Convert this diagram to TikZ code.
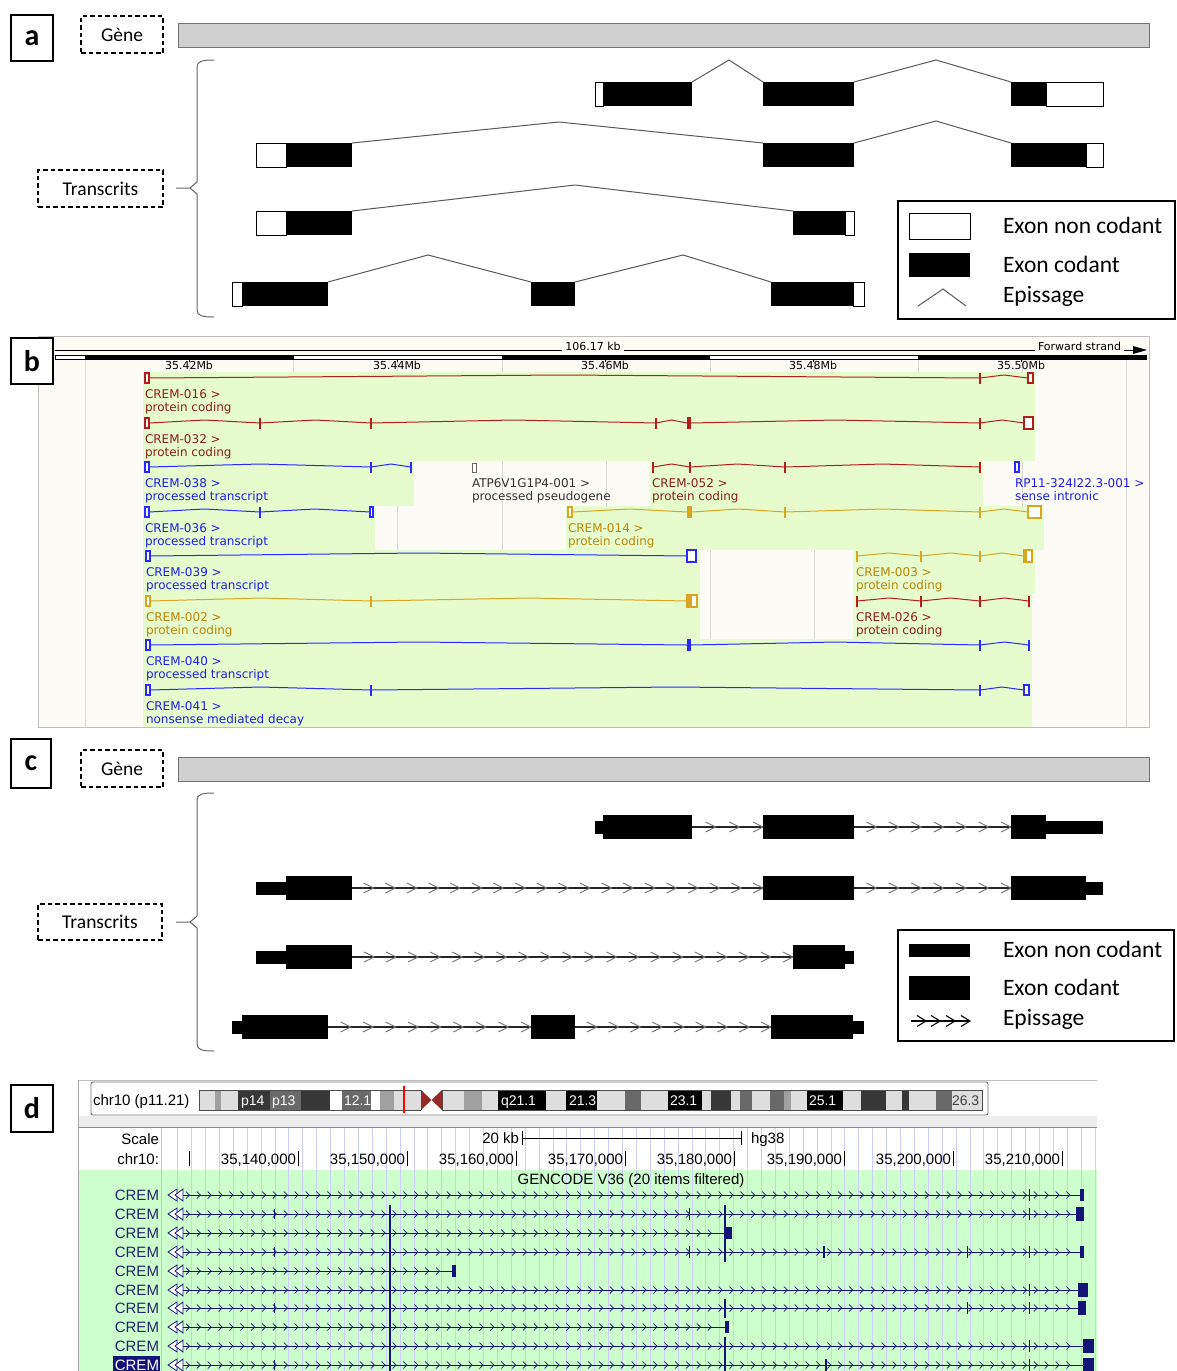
\documentclass[tikz,border=0pt]{standalone}
\usepackage{fontspec}
\setmainfont{Carlito}
\newfontfamily\ensfont{DejaVu Sans}
\newfontfamily\ucfont{Liberation Sans}
\definecolor{genegray}{RGB}{208,208,208}
\definecolor{ensgreen}{RGB}{231,252,205}
\definecolor{enscream}{RGB}{252,251,246}
\definecolor{ensgrid}{RGB}{215,215,212}
\definecolor{pcline}{RGB}{178,30,30}
\definecolor{pctext}{RGB}{139,30,30}
\definecolor{goline}{RGB}{218,165,32}
\definecolor{gotext}{RGB}{184,134,11}
\definecolor{blline}{RGB}{40,40,255}
\definecolor{bltext}{RGB}{30,30,235}
\definecolor{atptext}{RGB}{50,50,50}
\definecolor{ucgreen}{RGB}{204,255,204}
\definecolor{ucgrid}{RGB}{205,205,250}
\definecolor{ucnavy}{RGB}{20,20,120}
\definecolor{uctext}{RGB}{35,35,110}
\definecolor{ucpink}{RGB}{255,175,175}
\definecolor{bA}{RGB}{222,222,222}
\definecolor{bB}{RGB}{160,160,160}
\definecolor{bC}{RGB}{105,105,105}
\definecolor{bD}{RGB}{55,55,55}
\definecolor{cenred}{RGB}{150,40,40}
\tikzset{
  every node/.style={inner sep=0pt, outer sep=0pt},
  plabel/.style={draw, fill=white, line width=1.6pt, minimum width=42pt, minimum height=46pt, font=\fontsize{30}{30}\selectfont\bfseries},
  dbox/.style={draw, dashed, dash pattern=on 4.5pt off 3pt, line width=1.1pt, font=\fontsize{19.5}{20}\selectfont},
  genebar/.style={draw=black!55, fill=genegray, line width=0.8pt, anchor=north west, minimum width=971pt, minimum height=24pt},
  ncx/.style={draw=black, fill=white, line width=0.8pt},
  spl/.style={draw=black!65, line width=1pt},
  bracestyle/.style={draw=black!60, line width=1pt},
  legtxt/.style={font=\fontsize{23.5}{24}\selectfont, anchor=base west},
  legbox/.style={draw=black, line width=1.2pt, anchor=north west},
  chevline/.style={draw=black!85, line width=1.3pt},
  chevmark/.style={draw=black!55, line width=0.9pt},
  enstxt/.style={font=\ensfont\fontsize{12}{12}\selectfont, anchor=base west},
  ensaxis/.style={font=\ensfont\fontsize{11}{11}\selectfont},
  pc/.style={draw=pcline, line width=1pt},
  go/.style={draw=goline, line width=1pt},
  bl/.style={draw=blline, line width=1pt},
  ucl/.style={font=\ucfont\fontsize{15}{15}\selectfont},
  bandtxt/.style={font=\ucfont\fontsize{14}{14}\selectfont, text=white, anchor=base west},
}
\newcommand{\ehat}[4]{\draw[#1] (#2,#4) -- ({(#2+#3)/2},#4-3) -- (#3,#4);}
\newcommand{\etick}[3]{\draw[#1, line width=1.5pt] (#2,#3-5.5) -- (#2,#3+5.5);}
\newcommand{\ebox}[4]{\draw[#1, fill=white, line width=1.2pt] (#2,#4-5) rectangle (#3,#4+5);}
\newcommand{\eboxb}[4]{\draw[#1, fill=white, line width=1.6pt] (#2,#4-6) rectangle (#3,#4+6);}
\newcommand{\efill}[4]{\fill[#1] (#2,#4-6) rectangle (#3,#4+6);}
\newcommand{\chevc}[4]{%
  \draw[chevline] (#1,#3) -- (#2,#3);
  \foreach \k in {1,...,#4}{%
    \pgfmathsetmacro\xt{#1+\k*(#2-#1)/#4}%
    \draw[chevmark] (\xt-10,#3-5) -- (\xt,#3) -- (\xt-10,#3+5);
  }%
}
\newcommand{\ucrow}[4]{%
  \draw[ucnavy, line width=0.9pt] (183,#2) -- (#3,#2);
  \pgfmathtruncatemacro\ucn{(#3-194)/10.87}%
  \foreach \k in {0,...,\ucn}{%
    \draw[ucnavy, line width=0.7pt] ({186+10.87*\k},#2-3.5) -- ({189.5+10.87*\k},#2) -- ({186+10.87*\k},#2+3.5);
  }%
  \draw[ucnavy, line width=0.8pt, fill=white] (168,#2) -- (177,#2-6) -- (177,#2+6) -- cycle;
  \draw[ucnavy, line width=0.8pt, fill=white] (175,#2) -- (183,#2-6) -- (183,#2+6) -- cycle;
  \node[ucl, anchor=base east, #4] (crem#1) at (159,#2+5.4) {CREM};
}
\newcommand{\uctick}[4]{\draw[ucnavy, line width=#4] (#1,#2-#3) -- (#1,#2+#3);}
\newcommand{\ucbox}[4]{\fill[ucnavy] (#1,#3-#4) rectangle (#2,#3+#4);}
\begin{document}
\begin{tikzpicture}[x=1pt,y=-1pt]
\useasboundingbox (0,0) rectangle (1176,1371);
\fill[white] (0,0) rectangle (1176,1371);

% ================= PANEL A =================
\node[plabel] (pa) at (32,38) {a};
\node[dbox, minimum width=82pt, minimum height=37pt] (genea) at (122,34.5) {Gène};
\node[genebar] (bara) at (178,23) {};
\node[dbox, minimum width=125pt, minimum height=37pt] (transa) at (100.5,188.5) {Transcrits};
\draw[bracestyle] (214,60) .. controls (203,60) and (197,61) .. (197,67) -- (197,182) -- (190,188) -- (176,188);
\draw[bracestyle] (190,188) -- (197,194) -- (197,310) .. controls (197,316) and (203,317) .. (214,317);
% T1
\draw[spl] (692,82) -- (729,60) -- (763,82);
\draw[spl] (854,82) -- (936,60) -- (1011,82);
\draw[ncx] (595,82) rectangle (603,106);
\fill (603,82) rectangle (692,106);
\fill (763,82) rectangle (854,106);
\fill (1011,82) rectangle (1046,106);
\draw[ncx] (1046,82) rectangle (1103,106);
% T2
\draw[spl] (352,143) -- (559,122) -- (763,143);
\draw[spl] (854,143) -- (936,121) -- (1011,143);
\draw[ncx] (256,143) rectangle (286,167);
\fill (286,143) rectangle (352,167);
\fill (763,143) rectangle (854,167);
\fill (1011,143) rectangle (1086,167);
\draw[ncx] (1086,143) rectangle (1103,167);
% T3
\draw[spl] (352,211) -- (575,185) -- (793,211);
\draw[ncx] (256,211) rectangle (286,235);
\fill (286,211) rectangle (352,235);
\fill (793,211) rectangle (845,235);
\draw[ncx] (845,211) rectangle (854,235);
% T4
\draw[spl] (328,282) -- (428,255) -- (531,282);
\draw[spl] (575,282) -- (683,255) -- (771,282);
\draw[ncx] (232,282) rectangle (242,306);
\fill (242,282) rectangle (328,306);
\fill (531,282) rectangle (575,306);
\fill (771,282) rectangle (853,306);
\draw[ncx] (853,282) rectangle (864,306);
% legend a
\node[legbox, minimum width=277pt, minimum height=118pt] (lega) at (898,201) {};
\draw[ncx] (909,213) rectangle (970,239);
\fill (909,253) rectangle (970,277);
\draw[spl] (918,306) -- (943,289) -- (966,306);
\node[legtxt] (lga1) at (1003,233) {Exon non codant};
\node[legtxt] (lga2) at (1003,272) {Exon codant};
\node[legtxt] (lga3) at (1003,302) {Epissage};

% ================= PANEL B =================
\draw[draw=black!25, fill=enscream] (38,336) rectangle (1149,727);
\foreach \g in {85,189,293,397,502,606,710,814,918,1022,1126}{\draw[ensgrid, line width=1pt] (\g,360) -- (\g,727);}
% ruler
\draw[black, line width=0.8pt] (55,350) -- (562,350);
\draw[black, line width=0.8pt] (624,350) -- (1035,350);
\node[ensaxis, anchor=base] (bkb) at (593,350) {106.17 kb};
\node[ensaxis, anchor=base west] (bfs) at (1038,350) {Forward strand};
\draw[black, line width=0.8pt] (1124,350) -- (1134,350);
\fill[black] (1133,346) -- (1147,350) -- (1133,354) -- cycle;
\draw[black, line width=0.6pt, fill=white] (55,355) rectangle (1146,359);
\fill[black] (85,354.5) rectangle (294,359.5);
\fill[black] (502,354.5) rectangle (710,359.5);
\fill[black] (918,354.5) rectangle (1146,359.5);
\foreach \t/\lab [count=\i] in {189/35.42Mb,397/35.44Mb,605/35.46Mb,813/35.48Mb,1021/35.50Mb}{
  \draw[black, line width=0.6pt] (\t,359) -- (\t,362);
  \node[ensaxis] (btick\i) at (\t,365.5) {\lab};
}
% green backgrounds
\fill[ensgreen] (143,372) rectangle (1035,461);
\fill[ensgreen] (143,461) rectangle (414,506);
\fill[ensgreen] (650,461) rectangle (983,506);
\fill[ensgreen] (143,506) rectangle (375,550);
\fill[ensgreen] (566,506) rectangle (1044,550);
\fill[ensgreen] (143,550) rectangle (700,639);
\fill[ensgreen] (853,550) rectangle (1035,594);
\fill[ensgreen] (853,594) rectangle (1032,639);
\fill[ensgreen] (143,639) rectangle (1032,727);
% row 1
\ehat{pc}{149}{980}{378}\etick{pc}{980}{378}\ehat{pc}{980}{1028}{378}
\ebox{pc}{145}{149}{378}\ebox{pc}{1028}{1033}{378}
% row 2
\ehat{pc}{149}{260}{423}\etick{pc}{260}{423}
\ehat{pc}{260}{371}{423}\etick{pc}{371}{423}
\ehat{pc}{371}{656}{423}\etick{pc}{656}{423}
\ehat{pc}{656}{687}{423}\efill{pcline}{687}{691}{423}
\ehat{pc}{691}{980}{423}\etick{pc}{980}{423}
\ehat{pc}{980}{1024}{423}\eboxb{pc}{1024}{1033}{423}
\ebox{pc}{145}{149}{423}
% row 3
\ehat{bl}{149}{371}{467}\etick{bl}{371}{467}\ehat{bl}{371}{411}{467}\etick{bl}{411}{467}
\ebox{bl}{145}{149}{467}
\draw[draw=black!60, fill=white, line width=1pt] (472,463) rectangle (476,472);
\etick{pc}{653}{467}\ehat{pc}{653}{690}{467}\etick{pc}{690}{467}\ehat{pc}{690}{785}{467}\etick{pc}{785}{467}\ehat{pc}{785}{980}{467}\etick{pc}{980}{467}
\ebox{bl}{1015}{1019}{467}
% row 4
\ehat{bl}{149}{260}{512}\etick{bl}{260}{512}\ehat{bl}{260}{370}{512}\ebox{bl}{370}{373}{512}
\ebox{bl}{145}{149}{512}
\ehat{go}{572}{687}{512}\efill{goline}{687}{692}{512}\ehat{go}{692}{785}{512}\etick{go}{785}{512}
\ehat{go}{785}{980}{512}\etick{go}{980}{512}\ehat{go}{980}{1028}{512}\eboxb{go}{1028}{1041}{512}
\ebox{go}{568}{572}{512}
% row 5
\ehat{bl}{150}{687}{556}\eboxb{bl}{687}{696}{556}\ebox{bl}{146}{150}{556}
\etick{go}{857}{556}\ehat{go}{857}{921}{556}\etick{go}{921}{556}\ehat{go}{921}{980}{556}\etick{go}{980}{556}
\ehat{go}{980}{1024}{556}\eboxb{go}{1024}{1032}{556}\efill{goline}{1024}{1027}{556}
% row 6
\ehat{go}{150}{371}{601}\etick{go}{371}{601}\ehat{go}{371}{687}{601}\eboxb{go}{687}{697}{601}\efill{goline}{687}{692}{601}
\ebox{go}{146}{150}{601}
\etick{pc}{857}{601}\ehat{pc}{857}{921}{601}\etick{pc}{921}{601}\ehat{pc}{921}{980}{601}\etick{pc}{980}{601}\ehat{pc}{980}{1029}{601}\etick{pc}{1029}{601}
% row 7
\ehat{bl}{150}{687}{645}\efill{blline}{687}{691}{645}\ehat{bl}{691}{980}{645}\etick{bl}{980}{645}\ehat{bl}{980}{1029}{645}\etick{bl}{1029}{645}
\ebox{bl}{146}{150}{645}
% row 8
\ehat{bl}{150}{371}{690}\etick{bl}{371}{690}\ehat{bl}{371}{980}{690}\etick{bl}{980}{690}\ehat{bl}{980}{1024}{690}\ebox{bl}{1024}{1029}{690}
\ebox{bl}{146}{150}{690}
% labels
\foreach \nm/\xx/\yy/\cc/\la/\lb in {
  r1/145/378/pctext/CREM-016 >/protein coding,
  r2/145/423/pctext/CREM-032 >/protein coding,
  r3a/145/467/bltext/CREM-038 >/processed transcript,
  r3b/472/467/atptext/ATP6V1G1P4-001 >/processed pseudogene,
  r3c/652/467/pctext/CREM-052 >/protein coding,
  r3d/1015/467/bltext/RP11-324I22.3-001 >/sense intronic,
  r4a/145/512/bltext/CREM-036 >/processed transcript,
  r4b/568/512/gotext/CREM-014 >/protein coding,
  r5a/146/556/bltext/CREM-039 >/processed transcript,
  r5b/856/556/gotext/CREM-003 >/protein coding,
  r6a/146/601/gotext/CREM-002 >/protein coding,
  r6b/856/601/pctext/CREM-026 >/protein coding,
  r7/146/645/bltext/CREM-040 >/processed transcript,
  r8/146/690/bltext/CREM-041 >/nonsense mediated decay}{
  \node[enstxt, text=\cc] (\nm n) at (\xx,\yy+20) {\la};
  \node[enstxt, text=\cc] (\nm t) at (\xx,\yy+33) {\lb};
}
\node[plabel] (pb) at (32,361) {b};

% ================= PANEL C =================
\node[plabel, minimum width=40pt, minimum height=49pt] (pc) at (31,763.5) {c};
\node[dbox, minimum width=82pt, minimum height=37pt] (genec) at (122,768.5) {Gène};
\node[genebar] (barc) at (178,757) {};
\node[dbox, minimum width=124pt, minimum height=36pt] (transc) at (100,922) {Transcrits};
\draw[bracestyle] (214,793) .. controls (203,793) and (197,794) .. (197,800) -- (197,916) -- (190,922) -- (176,922);
\draw[bracestyle] (190,922) -- (197,928) -- (197,1044) .. controls (197,1050) and (203,1051) .. (214,1051);
% T1
\chevc{692}{763}{827}{3}
\chevc{854}{1011}{827}{7}
\fill (595,820.5) rectangle (603,833.5);
\fill (603,815) rectangle (692,839);
\fill (763,815) rectangle (854,839);
\fill (1011,815) rectangle (1046,839);
\fill (1046,820.5) rectangle (1103,833.5);
% T2
\chevc{352}{763}{888}{19}
\chevc{854}{1011}{888}{7}
\fill (256,881.5) rectangle (286,894.5);
\fill (286,876) rectangle (352,900);
\fill (763,876) rectangle (854,900);
\fill (1011,876) rectangle (1086,900);
\fill (1086,881.5) rectangle (1103,894.5);
% T3
\chevc{352}{793}{957}{20}
\fill (256,950.5) rectangle (286,963.5);
\fill (286,945) rectangle (352,969);
\fill (793,945) rectangle (845,969);
\fill (845,950.5) rectangle (854,963.5);
% T4
\chevc{328}{531}{1027}{9}
\chevc{575}{771}{1027}{9}
\fill (232,1020.5) rectangle (242,1033.5);
\fill (242,1015) rectangle (328,1039);
\fill (531,1015) rectangle (575,1039);
\fill (771,1015) rectangle (853,1039);
\fill (853,1020.5) rectangle (864,1033.5);
% legend c
\node[legbox, minimum width=276pt, minimum height=111pt] (legc) at (898,930) {};
\fill (909,944) rectangle (970,957);
\fill (909,976) rectangle (970,1000);
\draw[black, line width=1.2pt] (911,1021) -- (970,1021);
\foreach \cx in {926,940,955,970}{\draw[black, line width=1.1pt] (\cx-9,1015.5) -- (\cx,1021) -- (\cx-9,1026.5);}
\node[legtxt] (lgc1) at (1003,957) {Exon non codant};
\node[legtxt] (lgc2) at (1003,995) {Exon codant};
\node[legtxt] (lgc3) at (1003,1025) {Epissage};

% ================= PANEL D =================
\fill[white] (78,1080) rectangle (1097,1127);
\fill[black!7] (78,1116) rectangle (1097,1127);
\draw[black!25, line width=0.8pt] (78,1080.5) -- (1097,1080.5);
\draw[black!45, line width=1pt] (78,1127) -- (1097,1127);
\draw[black!35, line width=1pt] (78,1080) -- (78,1371);
\draw[black!55, line width=0.9pt, rounded corners=2pt, fill=white] (91,1082) rectangle (988,1115);
\node[ucl, anchor=base west] (chrlab) at (93,1105.5) {chr10 (p11.21)};
% bands
\fill[white] (199,1090) rectangle (982,1110);
\fill[bA] (199,1090) rectangle (215,1110);
\fill[bB] (215,1090) rectangle (221,1110);
\fill[bA] (221,1090) rectangle (238,1110);
\fill[bD] (238,1090) rectangle (270,1110);
\fill[bC] (270,1090) rectangle (301,1110);
\fill[bD] (301,1090) rectangle (330,1110);
\fill[bC] (342,1090) rectangle (371,1110);
\fill[bB] (380,1090) rectangle (394,1110);
\fill[bA] (394,1090) rectangle (421,1110);
\fill[bA] (442,1090) rectangle (464,1110);
\fill[bB] (464,1090) rectangle (482,1110);
\fill[bA] (482,1090) rectangle (498,1110);
\fill[black] (498,1090) rectangle (546,1110);
\fill[bA] (546,1090) rectangle (566,1110);
\fill[black] (566,1090) rectangle (597,1110);
\fill[bA] (597,1090) rectangle (625,1110);
\fill[bC] (625,1090) rectangle (641,1110);
\fill[bA] (641,1090) rectangle (668,1110);
\fill[black] (668,1090) rectangle (702,1110);
\fill[bA] (702,1090) rectangle (711,1110);
\fill[bD] (711,1090) rectangle (731,1110);
\fill[bA] (731,1090) rectangle (740,1110);
\fill[bC] (740,1090) rectangle (752,1110);
\fill[bA] (752,1090) rectangle (770,1110);
\fill[bC] (770,1090) rectangle (784,1110);
\fill[bB] (784,1090) rectangle (791,1110);
\fill[bA] (791,1090) rectangle (807,1110);
\fill[black] (807,1090) rectangle (843,1110);
\fill[bA] (843,1090) rectangle (861,1110);
\fill[bD] (861,1090) rectangle (886,1110);
\fill[bA] (886,1090) rectangle (902,1110);
\fill[bD] (902,1090) rectangle (909,1110);
\fill[bA] (909,1090) rectangle (936,1110);
\fill[bC] (936,1090) rectangle (952,1110);
\fill[bA] (952,1090) rectangle (982,1110);
\draw[black!70, line width=0.7pt] (199,1090) rectangle (421,1110);
\draw[black!70, line width=0.7pt] (442,1090) rectangle (982,1110);
\fill[white] (421,1089) rectangle (442,1111);
\fill[cenred] (421,1090) -- (431.5,1100) -- (421,1110) -- cycle;
\fill[cenred] (442,1090) -- (431.5,1100) -- (442,1110) -- cycle;
\draw[red, line width=1.6pt] (404,1086) -- (404,1113);
\node[bandtxt] (bp14) at (241,1105) {p14};
\node[bandtxt] (bp13) at (272,1105) {p13};
\node[bandtxt] (b121) at (344,1105) {12.1};
\node[bandtxt] (bq211) at (501,1105) {q21.1};
\node[bandtxt] (b213) at (569,1105) {21.3};
\node[bandtxt] (b231) at (670,1105) {23.1};
\node[bandtxt] (b251) at (809,1105) {25.1};
\node[bandtxt, text=black!75] (b263) at (952,1105) {26.3};
% tracks
\fill[ucgreen] (79,1170) rectangle (1097,1371);
\foreach \k in {0,...,66}{\draw[ucgrid, line width=0.7pt] ({177.6+13.9*\k},1128) -- ({177.6+13.9*\k},1371);}
\draw[ucpink, line width=0.8pt] (161,1128) -- (161,1371);
\node[ucl, anchor=base east] (scl) at (159,1144.5) {Scale};
\node[ucl, anchor=base east] (chrc) at (159,1164.5) {chr10:};
\node[ucl, anchor=base east] (kb20) at (519,1143.5) {20 kb};
\draw[black, line width=0.8pt] (522,1138) -- (741,1138);
\draw[black, line width=0.8pt] (522,1131) -- (522,1145);
\draw[black, line width=0.8pt] (741,1131) -- (741,1145);
\node[ucl, anchor=base west] (hg) at (751,1143.5) {hg38};
\draw[black, line width=1pt] (189,1151) -- (189,1166);
\foreach \t/\lab [count=\i] in {298/35\,140\,000,407/35\,150\,000,516/35\,160\,000,625/35\,170\,000,734/35\,180\,000,844/35\,190\,000,953/35\,200\,000,1062/35\,210\,000}{
  \draw[black, line width=1pt] (\t,1151) -- (\t,1166);
}
\node[ucl, anchor=base east] (c1) at (296,1164.5) {35,140,000};
\node[ucl, anchor=base east] (c2) at (405,1164.5) {35,150,000};
\node[ucl, anchor=base east] (c3) at (514,1164.5) {35,160,000};
\node[ucl, anchor=base east] (c4) at (623,1164.5) {35,170,000};
\node[ucl, anchor=base east] (c5) at (732,1164.5) {35,180,000};
\node[ucl, anchor=base east] (c6) at (842,1164.5) {35,190,000};
\node[ucl, anchor=base east] (c7) at (951,1164.5) {35,200,000};
\node[ucl, anchor=base east] (c8) at (1060,1164.5) {35,210,000};
\node[ucl, anchor=base] (gencode) at (631,1184.5) {GENCODE V36 (20 items filtered)};
% row 10 highlight
\fill[ucnavy] (113,1356) rectangle (160,1372);
% rows
\ucrow{1}{1195}{1080}{text=uctext}
\uctick{1029}{1195}{6}{1pt}\ucbox{1080}{1084}{1195}{6}
\ucrow{2}{1214}{1076}{text=uctext}
\uctick{274}{1214}{5}{1pt}\uctick{390}{1214}{9.5}{1.1pt}\uctick{689}{1214}{6}{1pt}\uctick{725}{1214}{9.5}{2.2pt}\uctick{1029}{1214}{6}{1pt}\ucbox{1076}{1084}{1214}{7}
\ucrow{3}{1233}{726}{text=uctext}
\uctick{390}{1233}{9.5}{1.1pt}\uctick{725}{1233}{9.5}{2.2pt}\ucbox{726}{732}{1233}{6}
\ucrow{4}{1252}{1080}{text=uctext}
\uctick{274}{1252}{5}{1pt}\uctick{390}{1252}{9.5}{1.1pt}\uctick{689}{1252}{6}{1pt}\uctick{725}{1252}{9.5}{2.2pt}\uctick{824}{1252}{6}{2.5pt}\uctick{967}{1252}{6}{1pt}\uctick{1029}{1252}{6}{1pt}\ucbox{1080}{1083.5}{1252}{6}
\ucrow{5}{1271}{452}{text=uctext}
\uctick{390}{1271}{9.5}{1.1pt}\ucbox{452}{456}{1271}{6}
\ucrow{6}{1290}{1078}{text=uctext}
\uctick{390}{1290}{9.5}{1.1pt}\uctick{1029}{1290}{6}{1pt}\ucbox{1078}{1088}{1290}{7}
\ucrow{7}{1308}{1078}{text=uctext}
\uctick{274}{1308}{5}{1pt}\uctick{390}{1308}{9.5}{1.1pt}\uctick{725}{1308}{9.5}{2.2pt}\uctick{967}{1308}{6}{1pt}\uctick{1029}{1308}{6}{1pt}\ucbox{1078}{1086}{1308}{7}
\ucrow{8}{1327}{725}{text=uctext}
\uctick{390}{1327}{9.5}{1.1pt}\ucbox{725}{729}{1327}{6}
\ucrow{9}{1346}{1083}{text=uctext}
\uctick{390}{1346}{9.5}{1.1pt}\uctick{725}{1346}{9.5}{2.2pt}\uctick{1029}{1346}{6}{1pt}\ucbox{1083}{1094}{1346}{7}
\ucrow{10}{1365}{1083}{text=white}
\uctick{274}{1365}{5}{1pt}\uctick{390}{1365}{9.5}{1.1pt}\uctick{725}{1365}{9.5}{2.2pt}\uctick{826}{1365}{6}{2.5pt}\uctick{1029}{1365}{6}{1pt}\ucbox{1083}{1094}{1365}{7}
\node[plabel, minimum height=47pt] (pd) at (32,1108.5) {d};
\end{tikzpicture}
\end{document}
